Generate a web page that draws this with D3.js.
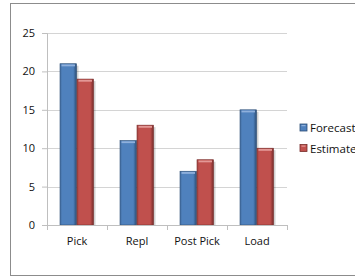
<!DOCTYPE html>
<html>
<head>
<meta charset="utf-8">
<script src="https://cdn.jsdelivr.net/npm/d3@7"></script>
<style>
  body { margin: 0; background: #fff; }
  text { font-family: "Open Sans", "Liberation Sans", sans-serif; font-size: 11px; fill: #111; }
</style>
</head>
<body>
<div id="chart"></div>
<script>
const categories = ['Pick', 'Repl', 'Post Pick', 'Load'];
const seriesNames = ['Forecast', 'Estimate'];
const forecast = [21, 11, 7, 15];
const estimate = [19, 13, 8.5, 10];
const yTicks = [0, 5, 10, 15, 20, 25];
const colors = { Forecast: '#4F81BD', Estimate: '#C0504D' };
const darks  = { Forecast: '#2c4d75', Estimate: '#772c2a' };
const lights = { Forecast: '#8fb0dc', Estimate: '#e39896' };

const WIDTH  = 355;
const HEIGHT = 277;
const MARGIN = { top: 33, left: 47, right: 68, bottom: 52 };
const INNER_WIDTH  = WIDTH - MARGIN.left - MARGIN.right;
const INNER_HEIGHT = HEIGHT - MARGIN.top - MARGIN.bottom;

const svg = d3.select('#chart').append('svg')
  .attr('width', WIDTH)
  .attr('height', HEIGHT);

// frame
svg.append('rect')
  .attr('x', 10.5).attr('y', 3.5)
  .attr('width', WIDTH + 10).attr('height', 272)
  .attr('fill', 'none').attr('stroke', '#8c8c8c');

const defs = svg.append('defs');
seriesNames.forEach(s => {
  const g = defs.append('linearGradient').attr('id', 'grad-' + s)
    .attr('x1', '0').attr('x2', '1').attr('y1', '0').attr('y2', '0');
  g.append('stop').attr('offset', '0%').attr('stop-color', d3.color(colors[s]).darker(0.4));
  g.append('stop').attr('offset', '15%').attr('stop-color', colors[s]);
  g.append('stop').attr('offset', '80%').attr('stop-color', colors[s]);
  g.append('stop').attr('offset', '100%').attr('stop-color', darks[s]);
});

const g = svg.append('g')
  .attr('transform', 'translate(' + MARGIN.left + ',' + MARGIN.top + ')');

const x = d3.scaleBand().domain(categories).range([0, INNER_WIDTH]);
const x1 = d3.scaleBand().domain(seriesNames).range([13, x.bandwidth() - 13]);
const y = d3.scaleLinear().domain([0, 25]).range([INNER_HEIGHT, 0]);

// gridlines
g.append('g')
  .selectAll('line')
  .data(yTicks.filter(d => d > 0))
  .join('line')
    .attr('x1', 0).attr('x2', INNER_WIDTH)
    .attr('y1', d => Math.round(y(d)) + 0.5).attr('y2', d => Math.round(y(d)) + 0.5)
    .attr('stroke', '#d4d4d4');

// y axis
const yAxis = g.append('g')
  .call(d3.axisLeft(y).tickValues(yTicks).tickSize(5).tickPadding(7));
yAxis.select('.domain').attr('stroke', '#bfbfbf');
yAxis.selectAll('.tick line').attr('stroke', '#bfbfbf');
yAxis.selectAll('text').attr('fill', '#111').style('font-size', '11px');

// bars
const data = categories.map((c, i) => ({ cat: c, values: [
  { s: 'Forecast', v: forecast[i] }, { s: 'Estimate', v: estimate[i] }] }));

const groups = g.append('g').selectAll('g')
  .data(data)
  .join('g')
    .attr('transform', d => 'translate(' + x(d.cat) + ',0)');

const bars = groups.selectAll('g')
  .data(d => d.values)
  .join('g');

// shadow
bars.append('rect')
  .attr('x', d => x1(d.s) + 1.5)
  .attr('y', d => y(d.v) + 2)
  .attr('width', x1.bandwidth())
  .attr('height', d => INNER_HEIGHT - y(d.v) - 2)
  .attr('fill', '#000').attr('opacity', 0.18);

bars.append('rect')
  .attr('x', d => x1(d.s))
  .attr('y', d => y(d.v))
  .attr('width', x1.bandwidth() - 0.5)
  .attr('height', d => INNER_HEIGHT - y(d.v))
  .attr('fill', d => 'url(#grad-' + d.s + ')')
  .attr('stroke', d => darks[d.s]).attr('stroke-width', 0.6);

// top bevel
bars.append('rect')
  .attr('x', d => x1(d.s) + 1.5)
  .attr('y', d => y(d.v) + 0.8)
  .attr('width', x1.bandwidth() - 3.5)
  .attr('height', 1.8)
  .attr('fill', d => lights[d.s]);

// x axis
const xAxis = g.append('g')
  .attr('transform', 'translate(0,' + INNER_HEIGHT + ')')
  .call(d3.axisBottom(x).tickSize(0).tickPadding(12));
xAxis.select('.domain').attr('stroke', '#bfbfbf');
xAxis.selectAll('text').attr('fill', '#111').style('font-size', '11px');
xAxis.selectAll('.sep')
  .data(d3.range(categories.length + 1))
  .join('line')
    .attr('class', 'sep')
    .attr('x1', i => i * x.step() + 0.5).attr('x2', i => i * x.step() + 0.5)
    .attr('y1', 0).attr('y2', 5)
    .attr('stroke', '#bfbfbf');

// legend
const legend = svg.append('g')
  .attr('transform', 'translate(300,124)');
const item = legend.selectAll('g')
  .data(seriesNames)
  .join('g')
    .attr('transform', (d, i) => 'translate(0,' + i * 20.5 + ')');
item.append('rect')
  .attr('width', 7).attr('height', 7)
  .attr('fill', d => colors[d]).attr('stroke', d => darks[d]).attr('stroke-width', 0.8);
item.append('rect')
  .attr('x', 1.5).attr('y', 1).attr('width', 4).attr('height', 1.2)
  .attr('fill', d => lights[d]);
item.append('text')
  .attr('x', 10).attr('y', 4).attr('dy', '0.35em')
  .style('font-size', '11.5px')
  .text(d => d);
</script>
</body>
</html>
